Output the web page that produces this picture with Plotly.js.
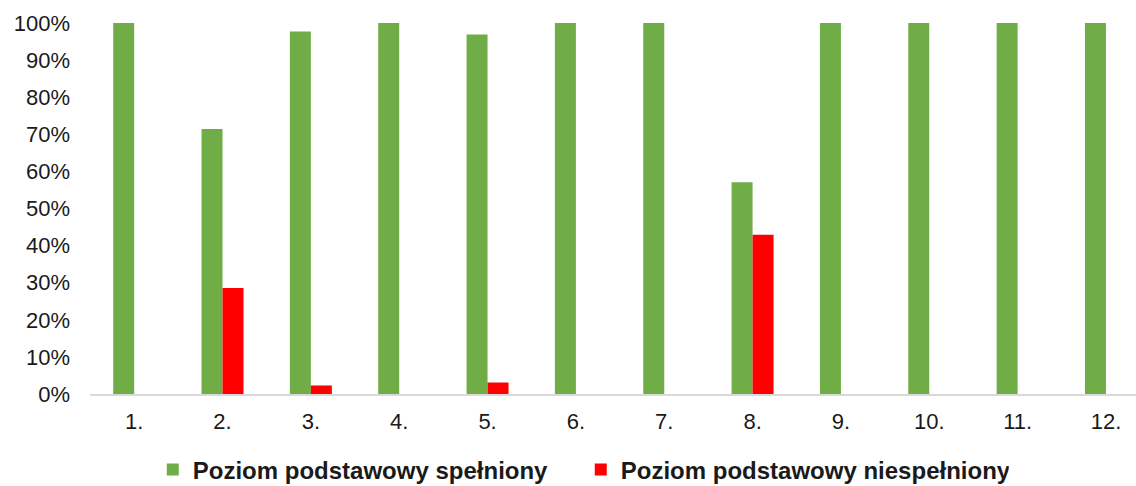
<!DOCTYPE html>
<html>
<head>
<meta charset="utf-8">
<script src="https://cdn.plot.ly/plotly-3.0.1.min.js"></script>
<style>html,body{margin:0;padding:0;background:#fff;}#chart{width:1136px;height:486px;}</style>
</head>
<body>
<div id="chart"></div>
<script>
const categories = ["1.", "2.", "3.", "4.", "5.", "6.", "7.", "8.", "9.", "10.", "11.", "12."];
const metValues = [1.00, 0.714, 0.977, 1.00, 0.969, 1.00, 1.00, 0.571, 1.00, 1.00, 1.00, 1.00];
const notMetValues = [0, 0.286, 0.023, 0, 0.031, 0, 0, 0.429, 0, 0, 0, 0];
const seriesNames = ["Poziom podstawowy spełniony", "Poziom podstawowy niespełniony"];
const yTickValues = [0, 0.1, 0.2, 0.3, 0.4, 0.5, 0.6, 0.7, 0.8, 0.9, 1.0];
const yTickLabels = ["0%", "10%", "20%", "30%", "40%", "50%", "60%", "70%", "80%", "90%", "100%"];

const font = "Liberation Sans, Arial, sans-serif";

const traces = [
  {type: "bar", name: seriesNames[0], x: categories, y: metValues,
   marker: {color: "#70AD47", line: {width: 0}}, hoverinfo: "skip"},
  {type: "bar", name: seriesNames[1], x: categories, y: notMetValues,
   marker: {color: "#FF0000", line: {width: 0}}, hoverinfo: "skip"}
];

const layout = {
  width: 1136, height: 486,
  margin: {l: 90, r: 0, t: 23, b: 92},
  paper_bgcolor: "#fff", plot_bgcolor: "#fff",
  barmode: "group", bargap: 0.525, bargroupgap: 0,
  font: {family: font, color: "#1a1a1a", size: 23},
  xaxis: {
    type: "category", range: [-0.5, 11.34],
    showline: true, linecolor: "#d9d9d9", linewidth: 2,
    showgrid: false, ticks: "", ticklabelstandoff: 7,
    tickfont: {family: font, size: 22, color: "#1a1a1a"}
  },
  yaxis: {
    range: [0, 1], tickvals: yTickValues, ticktext: yTickLabels,
    showgrid: false, zeroline: false, showline: false, ticks: "",
    ticklabelstandoff: 19,
    tickfont: {family: font, size: 22, color: "#1a1a1a"}
  },
  showlegend: true,
  legend: {
    orientation: "h", x: 0.06, xanchor: "left",
    yref: "container", y: 0.033, yanchor: "middle",
    font: {family: font, size: 24, color: "#1a1a1a", weight: "bold"},
    entrywidth: 383, entrywidthmode: "pixels", bgcolor: "rgba(0,0,0,0)"
  }
};

Plotly.newPlot("chart", traces, layout, {staticPlot: true, displayModeBar: false});
</script>
</body>
</html>
